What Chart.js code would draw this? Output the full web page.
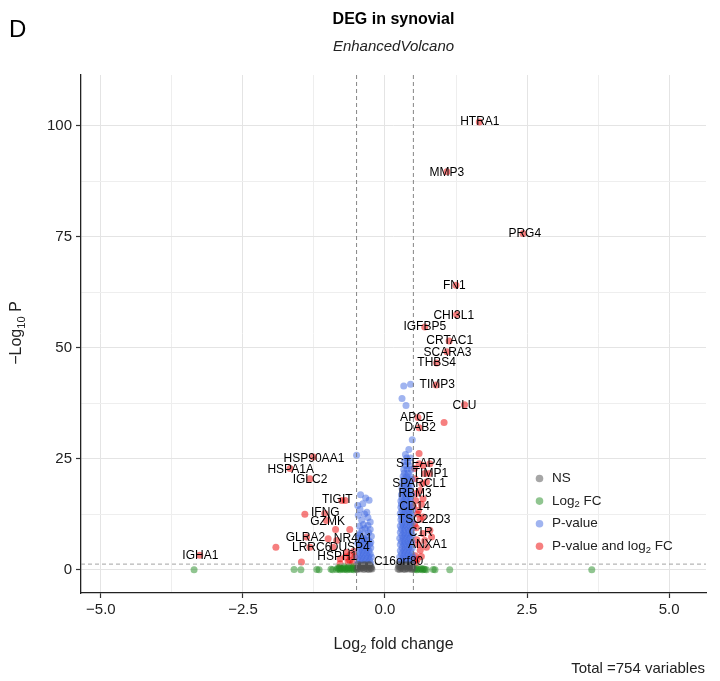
<!DOCTYPE html>
<html>
<head>
<meta charset="utf-8">
<script src="https://cdn.jsdelivr.net/npm/chart.js@4.4.0/dist/chart.umd.min.js"></script>
<style>
  html, body { margin: 0; padding: 0; background: #fff; }
</style>
</head>
<body>
<canvas id="chart0" width="720" height="681"></canvas>
<script>
// axis ticks / grid
const xTicks = [-5, -2.5, 0, 2.5, 5];
const xGrid = [-5, -3.75, -2.5, -1.25, 0, 1.25, 2.5, 3.75, 5];
const yTicks = [0, 25, 50, 75, 100];
const yGrid = [0, 12.5, 25, 37.5, 50, 62.5, 75, 87.5, 100];
const cutoffFC = [-0.5, 0.5];
const cutoffP = 1.3;

// NS (grey)
const nsPoints = [
  [-0.49,0.1],[-0.46,0.3],[-0.43,0.2],[-0.40,0.4],[-0.37,0.1],[-0.34,0.3],[-0.31,0.2],[-0.28,0.1],[-0.25,0.3],[-0.23,0.2],
  [-0.48,0.7],[-0.45,0.9],[-0.41,0.8],[-0.38,0.6],[-0.35,1.0],[-0.32,0.8],[-0.29,0.7],[-0.26,0.9],[-0.24,0.6],
  [-0.47,1.2],[-0.42,1.1],[-0.36,1.2],[-0.30,1.1],[-0.27,1.2],
  [0.23,0.2],[0.26,0.1],[0.29,0.3],[0.32,0.2],[0.35,0.1],[0.38,0.3],[0.41,0.2],[0.44,0.4],[0.47,0.1],[0.49,0.3],
  [0.24,0.8],[0.27,0.6],[0.30,0.9],[0.33,0.7],[0.36,1.0],[0.39,0.8],[0.42,0.6],[0.45,0.9],[0.48,0.7],
  [0.25,1.2],[0.31,1.1],[0.37,1.2],[0.43,1.1],[0.47,1.2]
];

// Log2 FC only (green)
const fcPoints = [
  [-3.36,0.05],[-1.60,0.1],[-1.48,0.05],[-1.20,0.1],[-1.16,0.05],[-0.95,0.15],[-0.92,0.05],
  [-0.85,0.1],[-0.83,0.4],[-0.81,0.2],[-0.79,0.05],[-0.77,0.3],[-0.75,0.15],[-0.73,0.45],[-0.71,0.1],
  [-0.69,0.3],[-0.67,0.05],[-0.65,0.35],[-0.63,0.15],[-0.61,0.5],[-0.59,0.1],[-0.57,0.3],[-0.55,0.05],
  [-0.53,0.4],[-0.51,0.2],[-0.80,0.6],[-0.72,0.7],[-0.64,0.6],[-0.56,0.7],
  [0.52,0.1],[0.54,0.3],[0.56,0.05],[0.58,0.2],[0.62,0.1],[0.64,0.3],[0.66,0.05],[0.68,0.2],
  [0.70,0.1],[0.73,0.05],[0.85,0.1],[0.88,0.05],[1.14,0.05],[3.64,0.05]
];

// P-value only (blue)
const pvPoints = [
  [-0.50,25.8],[-0.43,16.9],[-0.28,15.7],[-0.48,14.5],[-0.32,13.0],[-0.47,12.3],[-0.41,11.2],[-0.26,10.8],
  [-0.35,9.3],[-0.26,9.1],[-0.44,8.2],[-0.32,7.8],[-0.24,7.6],
  [-0.45,9.8],[-0.38,10.2],[-0.30,11.8],[-0.36,12.6],[-0.44,13.6],[-0.39,14.9],[-0.34,16.2],
  [-0.46,7.8],[-0.29,8.4],[-0.40,8.9],[-0.36,7.0],[-0.25,6.2],[-0.48,6.0],[-0.30,10.0],
  [-0.48,1.5],[-0.42,1.5],[-0.36,1.5],[-0.30,1.5],[-0.25,1.5],
  [-0.45,2.2],[-0.39,2.2],[-0.33,2.2],[-0.27,2.2],
  [-0.47,2.9],[-0.41,2.9],[-0.35,2.9],[-0.29,2.9],[-0.24,2.9],
  [-0.44,3.6],[-0.38,3.6],[-0.32,3.6],[-0.26,3.6],
  [-0.46,4.3],[-0.40,4.3],[-0.34,4.3],[-0.28,4.3],
  [-0.43,5.0],[-0.37,5.0],[-0.31,5.0],[-0.25,5.0],
  [-0.45,5.8],[-0.39,5.8],[-0.33,5.8],[-0.27,5.8],
  [-0.42,6.6],[-0.36,6.6],[-0.29,6.6],
  [-0.47,7.2],[-0.38,7.2],
  [0.26,1.5],[0.31,1.5],[0.37,1.5],[0.43,1.5],[0.48,1.5],
  [0.28,2.2],[0.34,2.2],[0.40,2.2],[0.46,2.2],
  [0.26,2.9],[0.32,2.9],[0.38,2.9],[0.44,2.9],[0.49,2.9],
  [0.29,3.6],[0.35,3.6],[0.41,3.6],[0.47,3.6],
  [0.27,4.3],[0.33,4.3],[0.39,4.3],[0.45,4.3],
  [0.30,5.0],[0.36,5.0],[0.42,5.0],[0.48,5.0],
  [0.27,5.7],[0.33,5.7],[0.39,5.7],[0.45,5.7],
  [0.29,6.4],[0.35,6.4],[0.41,6.4],[0.47,6.4],
  [0.26,7.1],[0.32,7.1],[0.38,7.1],[0.44,7.1],
  [0.30,7.8],[0.36,7.8],[0.42,7.8],[0.48,7.8],
  [0.27,8.5],[0.33,8.5],[0.40,8.5],[0.46,8.5],
  [0.29,9.2],[0.35,9.2],[0.41,9.2],[0.47,9.2],
  [0.27,9.9],[0.32,9.9],[0.38,9.9],[0.44,9.9],
  [0.30,10.6],[0.36,10.6],[0.43,10.6],[0.48,10.6],
  [0.28,11.3],[0.34,11.3],[0.40,11.3],[0.46,11.3],
  [0.29,12.0],[0.35,12.0],[0.41,12.0],[0.47,12.0],
  [0.27,12.7],[0.33,12.7],[0.39,12.7],[0.45,12.7],
  [0.30,13.4],[0.36,13.4],[0.42,13.4],[0.48,13.4],
  [0.28,14.1],[0.34,14.1],[0.40,14.1],[0.46,14.1],
  [0.29,14.8],[0.36,14.8],[0.43,14.8],
  [0.28,15.5],[0.33,15.5],[0.39,15.5],[0.45,15.5],
  [0.30,16.2],[0.37,16.2],[0.44,16.2],
  [0.29,16.9],[0.35,16.9],[0.41,16.9],[0.47,16.9],
  [0.31,17.6],[0.38,17.6],[0.45,17.6],
  [0.30,18.3],[0.36,18.3],[0.42,18.3],
  [0.32,19.0],[0.39,19.0],[0.46,19.0],
  [0.31,19.7],[0.37,19.7],[0.43,19.7],
  [0.33,20.4],[0.40,20.4],[0.47,20.4],
  [0.32,21.1],[0.38,21.1],[0.44,21.1],
  [0.34,21.8],[0.41,21.8],
  [0.33,22.6],[0.39,22.6],[0.46,22.6],
  [0.36,23.5],[0.43,23.5],
  [0.34,24.3],[0.40,24.3],
  [0.38,25.2],[0.45,25.2],
  [0.36,26.0],[0.42,27.1],[0.48,29.3],
  [0.37,37.0],[0.30,38.6],[0.33,41.4],[0.45,41.8]
];

// P-value and log2 FC (red)
const bothPoints = [
  [1.66,100.8],[1.09,89.6],[2.43,75.7],[1.25,64.1],[1.26,57.5],[0.70,54.7],[1.13,51.5],[1.09,49.1],
  [0.91,46.6],[0.90,41.6],[1.40,37.2],[1.04,33.2],[0.58,34.3],[0.60,32.0],
  [0.60,23.9],[0.70,21.7],[0.65,19.4],[0.55,17.2],[0.50,14.3],[0.62,11.4],[0.67,8.2],[0.59,5.7],
  [0.67,23.5],[0.79,23.9],[0.78,21.7],[0.73,19.8],[0.62,17.9],[0.67,16.0],[0.59,13.4],[0.67,11.9],
  [0.79,8.9],[0.70,6.6],[0.73,5.1],[0.62,4.4],[0.82,7.4],
  [0.55,9.5],[0.57,12.6],[0.53,20.5],[0.56,6.8],[0.53,3.2],[0.57,2.4],[0.64,3.0],[0.52,10.3],
  [0.54,15.6],[0.52,22.8],[0.64,14.8],[0.60,26.2],[0.51,2.0],[0.55,1.6],
  [-1.26,25.4],[-1.67,22.8],[-1.32,20.5],[-0.70,15.6],[-0.76,15.6],[-1.06,12.7],[-1.41,12.5],
  [-1.03,11.1],[-0.87,9.1],[-0.62,9.1],[-1.38,7.4],[-1.00,7.0],[-0.85,6.6],[-1.32,5.1],[-1.92,5.1],
  [-0.91,5.1],[-0.62,3.3],[-1.47,1.8],[-3.26,3.3],
  [-0.79,2.5],[-0.70,2.9],[-0.62,2.1],[-0.53,2.9],[-0.57,1.5],[-0.79,1.4],[-0.65,1.8],[-0.55,4.2],[-0.68,4.0]
];

// gene labels: name, x, y (where the text sits)
const geneLabels = [
  ["HTRA1",1.67,100.8],["MMP3",1.09,89.5],["PRG4",2.46,75.7],["FN1",1.22,63.9],["CHI3L1",1.21,57.3],
  ["IGFBP5",0.70,54.7],["CRTAC1",1.14,51.5],["SCARA3",1.10,48.9],["THBS4",0.91,46.6],["TIMP3",0.92,41.6],
  ["CLU",1.40,37.0],["APOE",0.56,34.2],["DAB2",0.62,31.9],["STEAP4",0.60,23.9],["TIMP1",0.80,21.7],
  ["SPARCL1",0.60,19.4],["RBM3",0.53,17.2],["CD14",0.52,14.3],["TSC22D3",0.69,11.4],["C1R",0.63,8.3],
  ["ANXA1",0.75,5.7],["C16orf80",0.24,1.8],
  ["HSP90AA1",-1.25,25.0],["HSPA1A",-1.66,22.6],["IGLC2",-1.32,20.4],["TIGIT",-0.84,15.8],
  ["IFNG",-1.05,12.8],["GZMK",-1.01,10.8],["GLRA2",-1.40,7.3],["NR4A1",-0.56,7.0],["LRRC6",-1.29,5.0],
  ["DUSP4",-0.62,5.0],["HSPH1",-0.84,2.9],["IGHA1",-3.25,3.3]
];

const FONT = '"Liberation Sans", Arial, Helvetica, sans-serif';
const colNS = 'rgba(77,77,77,0.5)';
const colFC = 'rgba(34,139,34,0.5)';
const colP = 'rgba(65,105,225,0.5)';
const colBoth = 'rgba(238,0,0,0.5)';

function mk(points, color) {
  return {
    data: points.map(p => ({ x: p[0], y: p[1] })),
    backgroundColor: color,
    borderWidth: 0,
    pointRadius: 3.5,
    pointHoverRadius: 3.5
  };
}

function fmtX(v) {
  const s = Math.abs(v).toFixed(1);
  return v < 0 ? '\u2212' + s : s;
}

// draw text with subscript parts: parts = [[text, isSub], ...]
function drawRich(ctx, parts, x, y, size, align) {
  let w = 0;
  parts.forEach(p => {
    ctx.font = (p[1] ? size * 0.7 : size) + 'px ' + FONT;
    w += ctx.measureText(p[0]).width;
  });
  let cx = align === 'center' ? x - w / 2 : x;
  ctx.textAlign = 'left';
  ctx.textBaseline = 'middle';
  parts.forEach(p => {
    ctx.font = (p[1] ? size * 0.7 : size) + 'px ' + FONT;
    ctx.fillText(p[0], cx, p[1] ? y + size * 0.28 : y);
    cx += ctx.measureText(p[0]).width;
  });
}

const decor = {
  id: 'decor',
  afterDatasetsDraw(chart) {
    const { ctx, chartArea: a, scales: { x, y } } = chart;
    ctx.save();
    ctx.lineWidth = 0.9;
    ctx.setLineDash([4, 3]);
    ctx.strokeStyle = '#777';
    cutoffFC.forEach(v => {
      const px = x.getPixelForValue(v);
      ctx.beginPath(); ctx.moveTo(px, a.top); ctx.lineTo(px, a.bottom); ctx.stroke();
    });
    ctx.strokeStyle = '#999';
    const py = y.getPixelForValue(cutoffP);
    ctx.beginPath(); ctx.moveTo(a.left, py); ctx.lineTo(a.right, py); ctx.stroke();
    ctx.setLineDash([]);

    ctx.fillStyle = '#000';
    ctx.font = '12px ' + FONT;
    ctx.textAlign = 'center';
    ctx.textBaseline = 'middle';
    geneLabels.forEach(g => {
      ctx.fillText(g[0], x.getPixelForValue(g[1]), y.getPixelForValue(g[2]));
    });
    ctx.restore();
  },
  afterDraw(chart) {
    const { ctx, chartArea: a } = chart;
    const mid = (a.left + a.right) / 2;
    ctx.save();
    ctx.fillStyle = '#000';
    ctx.textBaseline = 'middle';
    ctx.textAlign = 'left';
    ctx.font = '24px ' + FONT;
    ctx.fillText('D', 9, 30);

    ctx.textAlign = 'center';
    ctx.font = 'bold 16px ' + FONT;
    ctx.fillText('DEG in synovial', mid, 20);
    ctx.font = 'italic 15px ' + FONT;
    ctx.fillStyle = '#222';
    ctx.fillText('EnhancedVolcano', mid, 47);

    // axis titles
    drawRich(ctx, [['Log', false], ['2', true], [' fold change', false]], mid, 645, 16, 'center');
    ctx.save();
    ctx.translate(17, 333);
    ctx.rotate(-Math.PI / 2);
    drawRich(ctx, [['\u2212Log', false], ['10', true], [' P', false]], 0, 0, 16, 'center');
    ctx.restore();

    // caption
    ctx.font = '15px ' + FONT;
    ctx.textAlign = 'right';
    ctx.fillText('Total =754 variables', 705, 669);

    // legend
    const items = [
      [colNS, [['NS', false]]],
      [colFC, [['Log', false], ['2', true], [' FC', false]]],
      [colP, [['P-value', false]]],
      [colBoth, [['P-value and log', false], ['2', true], [' FC', false]]]
    ];
    items.forEach((it, i) => {
      const ly = 478.5 + i * 22.6;
      ctx.fillStyle = it[0];
      ctx.beginPath(); ctx.arc(539.5, ly, 3.8, 0, Math.PI * 2); ctx.fill();
      ctx.fillStyle = '#222';
      drawRich(ctx, it[1], 552, ly, 13.5, 'left');
    });
    ctx.restore();
  }
};

const ctx0 = document.getElementById('chart0').getContext('2d');
new Chart(ctx0, {
  type: 'scatter',
  data: {
    datasets: [mk(nsPoints, colNS), mk(fcPoints, colFC), mk(pvPoints, colP), mk(bothPoints, colBoth)]
  },
  options: {
    responsive: false,
    animation: false,
    layout: { padding: { left: 0, right: 14, top: 75, bottom: 0 } },
    plugins: { legend: { display: false }, tooltip: { enabled: false } },
    scales: {
      x: {
        type: 'linear',
        min: -5.35,
        max: 5.65,
        afterBuildTicks: s => { s.ticks = xGrid.map(v => ({ value: v })); },
        afterFit: s => { s.height = 88; },
        grid: {
          color: c => xTicks.includes(c.tick.value) ? '#e4e4e4' : '#eeeeee',
          lineWidth: 1,
          tickLength: 5,
          tickWidth: 1.2,
          tickColor: c => xTicks.includes(c.tick.value) ? '#333' : 'rgba(0,0,0,0)'
        },
        border: { color: '#222', width: 1.3 },
        ticks: {
          autoSkip: false, maxRotation: 0, padding: 3,
          font: { family: FONT, size: 15 }, color: '#222',
          callback: v => xTicks.includes(v) ? fmtX(v) : ''
        }
      },
      y: {
        type: 'linear',
        min: -5.2,
        max: 111.4,
        afterBuildTicks: s => { s.ticks = yGrid.map(v => ({ value: v })); },
        afterFit: s => { s.width = 81; },
        grid: {
          color: c => yTicks.includes(c.tick.value) ? '#e4e4e4' : '#eeeeee',
          lineWidth: 1,
          tickLength: 5,
          tickWidth: 1.2,
          tickColor: c => yTicks.includes(c.tick.value) ? '#333' : 'rgba(0,0,0,0)'
        },
        border: { color: '#222', width: 1.3 },
        ticks: {
          autoSkip: false, padding: 4,
          font: { family: FONT, size: 15 }, color: '#222',
          callback: v => yTicks.includes(v) ? String(v) : ''
        }
      }
    }
  },
  plugins: [decor]
});
</script>
</body>
</html>
